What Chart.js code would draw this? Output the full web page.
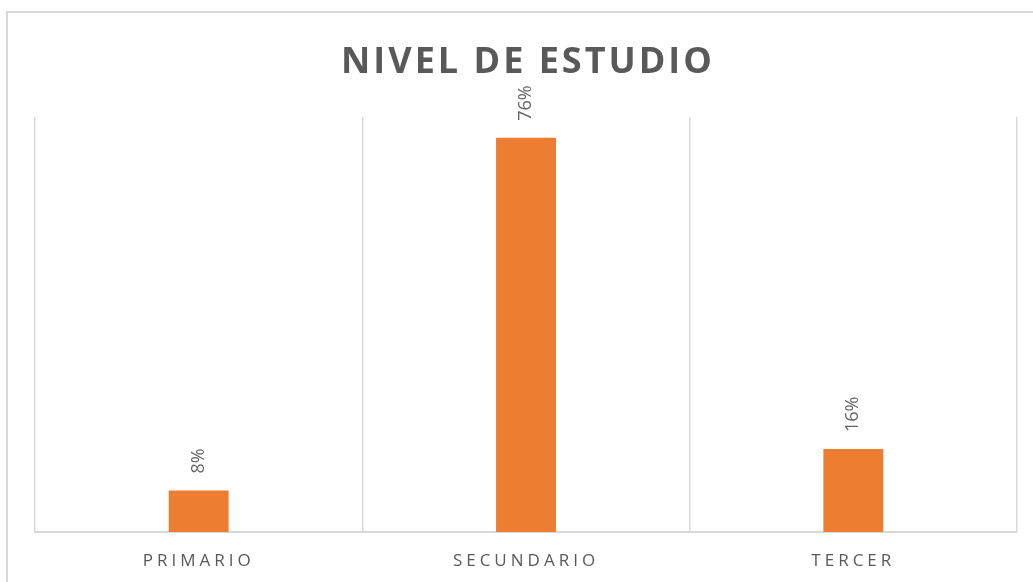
<!DOCTYPE html>
<html>
<head>
<meta charset="utf-8">
<script src="https://cdn.jsdelivr.net/npm/chart.js@4"></script>
<style>
    html, body { margin: 0; padding: 0; background: #ffffff; }
    #wrap { position: relative; width: 1033px; height: 582px; overflow: hidden; }
    #frame {
        position: absolute; left: 6px; top: 11px; width: 1100px; height: 700px;
        border-left: 2px solid #d9d9d9; border-top: 2px solid #d9d9d9;
    }
    #chart { position: absolute; left: 0; top: 0; }
</style>
</head>
<body>
<div id="wrap">
    <div id="frame"></div>
    <canvas id="chart" width="1033" height="582"></canvas>
</div>
<script>
// Datos
const categorias = ['PRIMARIO', 'SECUNDARIO', 'TERCER'];
const porcentajes = [8, 76, 16];
const titulo = 'NIVEL DE ESTUDIO';

const fuente = "'Open Sans', sans-serif";
const gris = '#595959';

// Titulo y espaciado de letras
const tituloPlugin = {
    id: 'tituloPlugin',
    beforeDraw(chart) {
        chart.ctx.letterSpacing = '4px';
    },
    beforeDatasetsDraw(chart) {
        chart.ctx.letterSpacing = '0px';
    },
    afterDraw(chart) {
        const ctx = chart.ctx;
        ctx.save();
        ctx.letterSpacing = '3px';
        ctx.font = "bold 36px " + fuente;
        ctx.fillStyle = gris;
        ctx.textAlign = 'center';
        ctx.textBaseline = 'alphabetic';
        ctx.fillText(titulo, 528, 73);
        ctx.restore();
    }
};

// Etiquetas verticales encima de las barras
const etiquetasPlugin = {
    id: 'etiquetasPlugin',
    afterDatasetsDraw(chart) {
        const ctx = chart.ctx;
        const meta = chart.getDatasetMeta(0);
        ctx.save();
        ctx.font = "18px " + fuente;
        ctx.fillStyle = '#666666';
        ctx.textAlign = 'left';
        ctx.textBaseline = 'middle';
        meta.data.forEach((bar, i) => {
            ctx.save();
            ctx.translate(bar.x, bar.y - 17);
            ctx.rotate(-Math.PI / 2);
            ctx.fillText(porcentajes[i] + '%', 0, 0);
            ctx.restore();
        });
        ctx.restore();
    }
};

new Chart(document.getElementById('chart'), {
    type: 'bar',
    data: {
        labels: categorias,
        datasets: [{
            data: porcentajes,
            backgroundColor: '#ed7d31',
            borderWidth: 0,
            barPercentage: 0.183,
            categoryPercentage: 1
        }]
    },
    options: {
        responsive: false,
        animation: false,
        layout: { padding: { left: 35, right: 16, top: 117, bottom: 0 } },
        plugins: {
            legend: { display: false },
            tooltip: { enabled: false }
        },
        scales: {
            x: {
                grid: { color: '#d9d9d9', lineWidth: 1.5, drawTicks: false, offset: true },
                border: { color: '#d9d9d9', width: 2 },
                ticks: { color: gris, font: { family: fuente, size: 17 }, padding: 19 },
                afterFit(scale) { scale.height = 50; }
            },
            y: {
                display: false,
                min: 0,
                max: 80
            }
        }
    },
    plugins: [tituloPlugin, etiquetasPlugin]
});
</script>
</body>
</html>
